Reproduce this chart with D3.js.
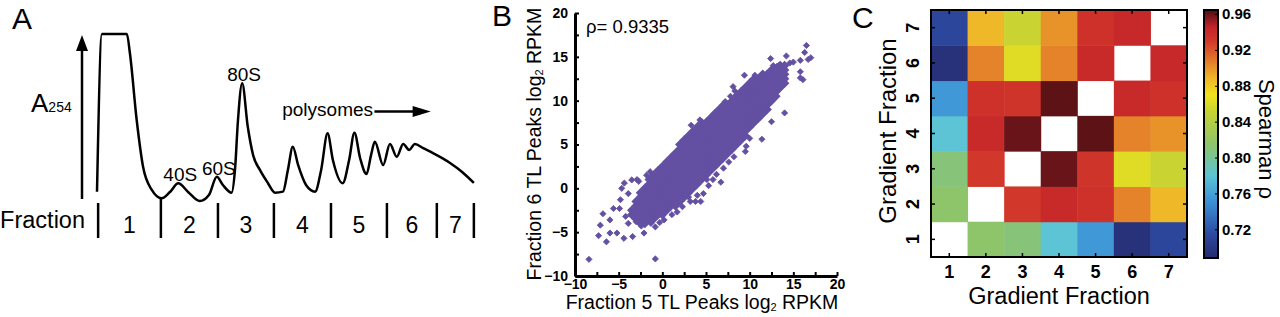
<!DOCTYPE html>
<html>
<head>
<meta charset="utf-8">
<script src="https://cdn.jsdelivr.net/npm/d3@7"></script>
<style>
body { margin: 0; background: #fff; }
svg { display: block; font-family: "Liberation Sans", Arial, sans-serif; }
</style>
</head>
<body>
<script>
// ---- panel A: polysome profile (gradient position %, A254 relative) ----
const profilePos = [0, 1.3, 7.9, 8.7, 10.5, 12.2, 14.5, 17.1, 19.3, 21.5, 24.1, 27.2, 29.6, 31.7, 33.3, 35.6, 36.5, 37.3, 38.4, 39.9,
    41.3, 43.1, 45.2, 47.1, 49.2, 50.5, 51.8, 53.2, 55.3, 57.7, 59.3, 61.0, 62.4, 65.0, 66.7, 68.1, 69.6, 71.3, 72.5, 73.5,
    75.7, 77.5, 79.3, 81.0, 82.6, 84.1, 86.3, 89.0, 93.4, 96.6, 99.7];
const profileAbs = [0.078, 1, 1, 0.889, 0.497, 0.222, 0.088, 0.039, 0.076, 0.127, 0.076, 0.023, 0.058, 0.165, 0.117, 0.072, 0.205, 0.497, 0.712, 0.456,
    0.292, 0.205, 0.129, 0.072, 0.078, 0.205, 0.341, 0.234, 0.117, 0.078, 0.205, 0.419, 0.263, 0.127, 0.263, 0.423, 0.275, 0.181, 0.292, 0.370,
    0.234, 0.357, 0.282, 0.357, 0.322, 0.357, 0.332, 0.302, 0.246, 0.193, 0.129];
const fractionBounds = [0.3, 16.9, 32.0, 46.8, 61.9, 76.7, 89.9, 99.7];
const fractionNames = ['1', '2', '3', '4', '5', '6', '7'];
const peakNames = ['40S', '60S', '80S'];
const peakPos = [21.5, 31.7, 38.4];
const peakAbs = [0.127, 0.165, 0.712];

// ---- panel B: fraction 5 vs fraction 6, log2 RPKM ----
// dense core, one column per x value
const scatterCore = [
    [-3.5, [-3, -2.5]],
    [-3, [-3.5, -3, -2.5, -2, -1.5]],
    [-2.5, [-4, -3.5, -3, -2.5, -2, -1.5, -1, -0.5]],
    [-2, [-4, -3.5, -3, -2.5, -2, -1.5, -1, -0.5, 0]],
    [-1.5, [-3.5, -3, -2.5, -2, -1.5, -1, -0.5, 0, 0.5, 1]],
    [-1, [-3.5, -3, -2.5, -2, -1.5, -1, -0.5, 0, 0.5, 1, 1.5]],
    [-0.5, [-3, -2.5, -2, -1.5, -1, -0.5, 0, 0.5, 1, 1.5, 2]],
    [0, [-3, -2.5, -2, -1.5, -1, -0.5, 0, 0.5, 1, 1.5, 2, 2.5]],
    [0.5, [-2.5, -2, -1.5, -1, -0.5, 0, 0.5, 1, 1.5, 2, 2.5, 3]],
    [1, [-2, -1.5, -1, -0.5, 0, 0.5, 1, 1.5, 2, 2.5, 3, 3.5]],
    [1.5, [-2, -1.5, -1, -0.5, 0, 0.5, 1, 1.5, 2, 2.5, 3, 3.5, 4]],
    [2, [-1.5, -1, -0.5, 0, 0.5, 1, 1.5, 2, 2.5, 3, 3.5, 4, 4.5, 5]],
    [2.5, [-1, -0.5, 0, 0.5, 1, 1.5, 2, 2.5, 3, 3.5, 4, 4.5, 5, 5.5]],
    [3, [-0.5, 0, 0.5, 1, 1.5, 2, 2.5, 3, 3.5, 4, 4.5, 5, 5.5, 6]],
    [3.5, [0, 0.5, 1, 1.5, 2, 2.5, 3, 3.5, 4, 4.5, 5, 5.5, 6, 6.5]],
    [4, [0.5, 1, 1.5, 2, 2.5, 3, 3.5, 4, 4.5, 5, 5.5, 6, 6.5, 7]],
    [4.5, [1, 1.5, 2, 2.5, 3, 3.5, 4, 4.5, 5, 5.5, 6, 6.5, 7, 7.5]],
    [5, [1.5, 2, 2.5, 3, 3.5, 4, 4.5, 5, 5.5, 6, 6.5, 7, 7.5]],
    [5.5, [2, 2.5, 3, 3.5, 4, 4.5, 5, 5.5, 6, 6.5, 7, 7.5, 8]],
    [6, [2.5, 3, 3.5, 4, 4.5, 5, 5.5, 6, 6.5, 7, 7.5, 8, 8.5]],
    [6.5, [3, 3.5, 4, 4.5, 5, 5.5, 6, 6.5, 7, 7.5, 8, 8.5, 9]],
    [7, [3.5, 4, 4.5, 5, 5.5, 6, 6.5, 7, 7.5, 8, 8.5, 9, 9.5]],
    [7.5, [4, 4.5, 5, 5.5, 6, 6.5, 7, 7.5, 8, 8.5, 9, 9.5]],
    [8, [4.5, 5, 5.5, 6, 6.5, 7, 7.5, 8, 8.5, 9, 9.5, 10]],
    [8.5, [5, 5.5, 6, 6.5, 7, 7.5, 8, 8.5, 9, 9.5, 10, 10.5]],
    [9, [5.5, 6, 6.5, 7, 7.5, 8, 8.5, 9, 9.5, 10, 10.5, 11]],
    [9.5, [6, 6.5, 7, 7.5, 8, 8.5, 9, 9.5, 10, 10.5, 11, 11.5]],
    [10, [7, 7.5, 8, 8.5, 9, 9.5, 10, 10.5, 11, 11.5, 12]],
    [10.5, [7.5, 8, 8.5, 9, 9.5, 10, 10.5, 11, 11.5, 12, 12.5]],
    [11, [8, 8.5, 9, 9.5, 10, 10.5, 11, 11.5, 12, 12.5]],
    [11.5, [8.5, 9, 9.5, 10, 10.5, 11, 11.5, 12, 12.5, 13]],
    [12, [9, 9.5, 10, 10.5, 11, 11.5, 12, 12.5, 13]],
    [12.5, [10, 10.5, 11, 11.5, 12, 12.5, 13, 13.5]],
    [13, [10.5, 11, 11.5, 12, 12.5, 13, 13.5]],
    [13.5, [11.5, 12, 12.5, 13, 13.5, 14]],
    [14, [12, 12.5, 13, 13.5, 14]]
];
// scattered points outside the core
const scatterOut = [
    [-8.4, -8.1], [-0.8, -8.05], [-7.3, -5.4], [-6.4, -6.1], [-6.0, -5.1], [-5.2, -5.1], [-4.4, -5.7], [-3.4, -5.5],
    [-2.1, -5.1], [-7.1, -4.2], [-6.8, -2.9], [-6.0, -3.6], [-5.6, -2.3], [-4.8, -1.3], [-4.9, -2.3], [-4.65, 0.0],
    [-4.35, 0.6], [-3.9, -0.6], [-3.5, 0.96], [-2.9, 1.0], [-2.7, 0.8], [-1.8, 1.5], [-1.4, 1.9], [-3.9, -4.0],
    [-3.0, -3.8], [-4.2, -3.2], [1.1, -3.0], [1.7, -2.7], [2.3, -2.1], [3.2, -1.5], [3.8, -1.5], [4.4, -1.5],
    [4.7, -0.6], [5.1, 1.0], [-0.8, -4.4], [-1.8, -3.6], [-1.3, -4.0], [-0.3, -3.9], [0.2, -3.6], [-2.4, -4.3],
    [3.0, -1.0], [4.0, -0.8], [5.3, 0.3], [5.8, 1.0], [6.2, 1.6], [7.0, 2.3], [7.6, 3.0], [8.2, 3.6],
    [6.7, 0.7], [9.5, 4.2], [9.6, 4.8], [11.4, 5.6], [12.5, 7.6], [14.0, 8.6], [15.8, 12.6], [16.5, 16.3],
    [16.3, 15.5], [14.2, 15.1], [12.4, 14.8], [16.7, 14.7], [15.8, 14.6], [15.0, 14.4], [12.7, 14.0], [13.3, 14.0],
    [14.0, 14.1], [14.6, 14.3], [15.8, 13.3], [16.1, 12.4], [9.4, 12.9], [10.6, 12.9], [11.4, 13.0], [11.8, 12.8],
    [10.6, 7.6], [9.85, 6.85], [9.3, 6.0], [10.0, 5.7], [7.2, 9.9], [7.8, 10.5], [8.5, 10.7], [8.1, 11.6],
    [17.0, 14.9], [13.1, 13.9], [8.3, 11.1], [4.3, 7.8], [3.3, 7.2]
];
const rhoText = 'ρ= 0.9335';
const bTicks = [-10, -7.5, -5, -2.5, 0, 2.5, 5, 7.5, 10, 12.5, 15, 17.5, 20];

// ---- panel C: Spearman rho between gradient fractions ----
const fractions = [1, 2, 3, 4, 5, 6, 7];
const spearman = [
    [null, 0.815, 0.81, 0.78, 0.755, 0.695, 0.712],
    [0.815, null, 0.93, 0.94, 0.935, 0.905, 0.888],
    [0.81, 0.93, null, 0.96, 0.932, 0.862, 0.852],
    [0.78, 0.94, 0.96, null, 0.962, 0.905, 0.90],
    [0.755, 0.935, 0.932, 0.962, null, 0.94, 0.935],
    [0.695, 0.905, 0.862, 0.905, 0.94, null, 0.942],
    [0.712, 0.888, 0.852, 0.90, 0.935, 0.942, null]
];
const cbTicks = [0.72, 0.76, 0.80, 0.84, 0.88, 0.92, 0.96];
const cbStops = [0.688, 0.715, 0.75, 0.78, 0.815, 0.85, 0.87, 0.89, 0.905, 0.93, 0.945, 0.9645];
const cbColors = ['#262a6e', '#2c4aa0', '#3b8fd6', '#5cc4d4', '#8ec46a', '#c4d234', '#f2e21d', '#efb32a', '#e4832a', '#d1372a', '#c4242a', '#4e0f12'];

const svg = d3.select('body').append('svg')
    .attr('width', 1280)
    .attr('height', 317);

const panelLetter = (x, y, t) => svg.append('text')
    .attr('x', x).attr('y', y)
    .style('font-size', '30px')
    .text(t);

// ================= A =================
panelLetter(12, 29, 'A');

const xA = d3.scaleLinear().domain([0, 100]).range([97, 475]);
const yA = d3.scaleLinear().domain([0, 1]).range([205, 34]);

const gA = svg.append('g');

// A254 arrow
gA.append('line')
    .attr('x1', xA(0) - 15).attr('x2', xA(0) - 15)
    .attr('y1', 199).attr('y2', 48)
    .attr('stroke', '#000').attr('stroke-width', 2.5);
gA.append('path')
    .attr('d', `M${xA(0) - 21},51 L${xA(0) - 9},51 L${xA(0) - 15},35 Z`)
    .attr('fill', '#000');

const a254 = gA.append('text').attr('x', 31).attr('y', 112).style('font-size', '26px');
a254.append('tspan').text('A');
a254.append('tspan').style('font-size', '14px').text('254');

const profileLine = d3.line()
    .x((d, i) => xA(profilePos[i]))
    .y(d => yA(d))
    .curve(d3.curveMonotoneX);

gA.append('path')
    .datum(profileAbs)
    .attr('d', profileLine)
    .attr('fill', 'none')
    .attr('stroke', '#000')
    .attr('stroke-width', 2.5)
    .attr('stroke-linejoin', 'round');

gA.selectAll('.peak')
    .data(peakNames)
    .enter().append('text')
    .attr('class', 'peak')
    .attr('x', (d, i) => xA(peakPos[i]) + 2)
    .attr('y', (d, i) => yA(peakAbs[i]) - 2)
    .attr('text-anchor', 'middle')
    .style('font-size', '19px')
    .text(d => d);

// polysomes label + arrow
gA.append('text')
    .attr('x', xA(49)).attr('y', 116)
    .style('font-size', '19px')
    .text('polysomes');
gA.append('line')
    .attr('x1', xA(73.4)).attr('x2', xA(85))
    .attr('y1', 111.5).attr('y2', 111.5)
    .attr('stroke', '#000').attr('stroke-width', 2.5);
gA.append('path')
    .attr('d', `M${xA(88.3)},111.5 L${xA(83.5)},106 L${xA(83.5)},117 Z`)
    .attr('fill', '#000');

// fraction boundaries
gA.selectAll('.bound')
    .data(fractionBounds)
    .enter().append('line')
    .attr('class', 'bound')
    .attr('x1', d => xA(d)).attr('x2', d => xA(d))
    .attr('y1', (d, i) => i === 1 ? 197 : 203)
    .attr('y2', 238)
    .attr('stroke', '#000').attr('stroke-width', 2.5);

gA.selectAll('.fname')
    .data(fractionNames)
    .enter().append('text')
    .attr('class', 'fname')
    .attr('x', (d, i) => xA((fractionBounds[i] + fractionBounds[i + 1]) / 2))
    .attr('y', 233)
    .attr('text-anchor', 'middle')
    .style('font-size', '23px')
    .text(d => d);

gA.append('text')
    .attr('x', xA(0) - 12).attr('y', 228)
    .attr('text-anchor', 'end')
    .style('font-size', '23.5px')
    .text('Fraction');

// ================= B =================
panelLetter(492, 26, 'B');

const xB = d3.scaleLinear().domain([-10, 20]).range([575, 837]);
const yB = d3.scaleLinear().domain([-10, 20]).range([276, 13]);
const fmtB = d => (d % 5 === 0 ? d3.format('d')(d) : '');
const diamond = d3.symbol(d3.symbolSquare, 19);
const purple = '#6450a2';

const corePoints = scatterCore.flatMap(([x, ys]) => ys.map(y => [x, y]));

// core drawn with a wider outline so it reads as a solid cloud
svg.append('g')
    .selectAll('path')
    .data(corePoints)
    .enter().append('path')
    .attr('d', diamond)
    .attr('transform', d => `translate(${xB(d[0])},${yB(d[1])}) rotate(45)`)
    .attr('fill', purple)
    .attr('stroke', purple)
    .attr('stroke-width', 2.4);

svg.append('g')
    .selectAll('path')
    .data(scatterOut)
    .enter().append('path')
    .attr('d', diamond)
    .attr('transform', d => `translate(${xB(d[0])},${yB(d[1])}) rotate(45)`)
    .attr('fill', purple)
    .attr('stroke', purple)
    .attr('stroke-width', 0.8);

const xAxisB = svg.append('g')
    .attr('transform', `translate(0,${yB(-10)})`)
    .call(d3.axisBottom(xB).tickValues(bTicks).tickSize(-4).tickSizeOuter(0).tickPadding(3).tickFormat(fmtB));
const yAxisB = svg.append('g')
    .attr('transform', `translate(${xB(-10)},0)`)
    .call(d3.axisLeft(yB).tickValues(bTicks).tickSize(-4).tickSizeOuter(0).tickPadding(7).tickFormat(fmtB));

[xAxisB, yAxisB].forEach(g => {
    g.select('.domain').attr('stroke-width', 3);
    g.selectAll('.tick line').attr('stroke-width', 2);
    g.selectAll('.tick text')
        .style('font-family', '"Liberation Sans", Arial, sans-serif')
        .style('font-size', '14px')
        .style('font-weight', 'bold')
        .attr('fill', '#000');
});

svg.append('text')
    .attr('x', 586).attr('y', 33)
    .style('font-size', '18.5px')
    .text(rhoText);

const labelB = (t, sel) => {
    sel.append('tspan').text(t[0]);
    sel.append('tspan').style('font-size', '11px').attr('dy', 2).text('2');
    sel.append('tspan').attr('dy', -2).text(t[1]);
};
labelB(['Fraction 5 TL Peaks log', ' RPKM'], svg.append('text')
    .attr('x', 702).attr('y', 309)
    .attr('text-anchor', 'middle')
    .style('font-size', '19.5px'));
labelB(['Fraction 6 TL Peaks log', ' RPKM'], svg.append('text')
    .attr('transform', 'translate(541,144) rotate(-90)')
    .attr('text-anchor', 'middle')
    .style('font-size', '19.5px'));

// ================= C =================
panelLetter(852, 28, 'C');

const xC = d3.scaleBand().domain(fractions).range([931, 1187]);
const yC = d3.scaleBand().domain(fractions).range([257, 10]);
const color = d3.scaleLinear().domain(cbStops).range(cbColors).interpolate(d3.interpolateRgb);

const cells = [];
spearman.forEach((row, i) => row.forEach((v, j) => {
    if (v !== null) cells.push({ row: fractions[i], col: fractions[j], v: v });
}));

svg.append('g')
    .selectAll('rect')
    .data(cells)
    .enter().append('rect')
    .attr('x', d => xC(d.col))
    .attr('y', d => yC(d.row))
    .attr('width', xC.bandwidth() + 0.5)
    .attr('height', yC.bandwidth() + 0.5)
    .attr('fill', d => color(d.v));

const axC = [
    svg.append('g').attr('transform', 'translate(0,257)').call(d3.axisBottom(xC).tickSize(-4).tickSizeOuter(0).tickPadding(8)),
    svg.append('g').attr('transform', 'translate(0,10)').call(d3.axisTop(xC).tickSize(-4).tickSizeOuter(0).tickFormat('')),
    svg.append('g').attr('transform', 'translate(931,0)').call(d3.axisLeft(yC).tickSize(-4).tickSizeOuter(0)),
    svg.append('g').attr('transform', 'translate(1187,0)').call(d3.axisRight(yC).tickSize(-4).tickSizeOuter(0).tickFormat(''))
];
axC.forEach(g => {
    g.select('.domain').remove();
    g.selectAll('.tick line').attr('stroke-width', 1.5);
    g.selectAll('.tick text')
        .style('font-family', '"Liberation Sans", Arial, sans-serif')
        .style('font-size', '18px')
        .style('font-weight', 'bold')
        .attr('fill', '#000');
});
// rotate the left tick labels
axC[2].selectAll('.tick text')
    .attr('x', null).attr('dy', null)
    .attr('text-anchor', 'middle')
    .attr('transform', 'translate(-12,0) rotate(-90)');

svg.append('rect')
    .attr('x', 931).attr('y', 10)
    .attr('width', 256).attr('height', 247)
    .attr('fill', 'none')
    .attr('stroke', '#000').attr('stroke-width', 2);

svg.append('text')
    .attr('x', 1059).attr('y', 304)
    .attr('text-anchor', 'middle')
    .style('font-size', '23.5px')
    .text('Gradient Fraction');
svg.append('text')
    .attr('transform', 'translate(896,131) rotate(-90)')
    .attr('text-anchor', 'middle')
    .style('font-size', '24px')
    .text('Gradient Fraction');

// colorbar
const cbY = d3.scaleLinear().domain([cbStops[0], cbStops[cbStops.length - 1]]).range([258, 10]);
const grad = svg.append('defs').append('linearGradient')
    .attr('id', 'cbGrad')
    .attr('x1', 0).attr('y1', 1).attr('x2', 0).attr('y2', 0);
grad.selectAll('stop')
    .data(cbStops)
    .enter().append('stop')
    .attr('offset', d => (d - cbStops[0]) / (cbStops[cbStops.length - 1] - cbStops[0]))
    .attr('stop-color', (d, i) => cbColors[i]);

svg.append('rect')
    .attr('x', 1204).attr('y', 10)
    .attr('width', 14).attr('height', 248)
    .attr('fill', 'url(#cbGrad)')
    .attr('stroke', '#000').attr('stroke-width', 2);

const cbAxis = svg.append('g')
    .attr('transform', 'translate(1218,0)')
    .call(d3.axisRight(cbY).tickValues(cbTicks).tickSize(-3).tickSizeOuter(0).tickPadding(4).tickFormat(d3.format('.2f')));
cbAxis.select('.domain').remove();
cbAxis.selectAll('.tick text')
    .style('font-family', '"Liberation Sans", Arial, sans-serif')
    .style('font-size', '15px')
    .style('font-weight', 'bold')
    .attr('fill', '#000');

svg.append('text')
    .attr('transform', 'translate(1259,139) rotate(90)')
    .attr('text-anchor', 'middle')
    .style('font-size', '22px')
    .text('Spearman ρ');
</script>
</body>
</html>
